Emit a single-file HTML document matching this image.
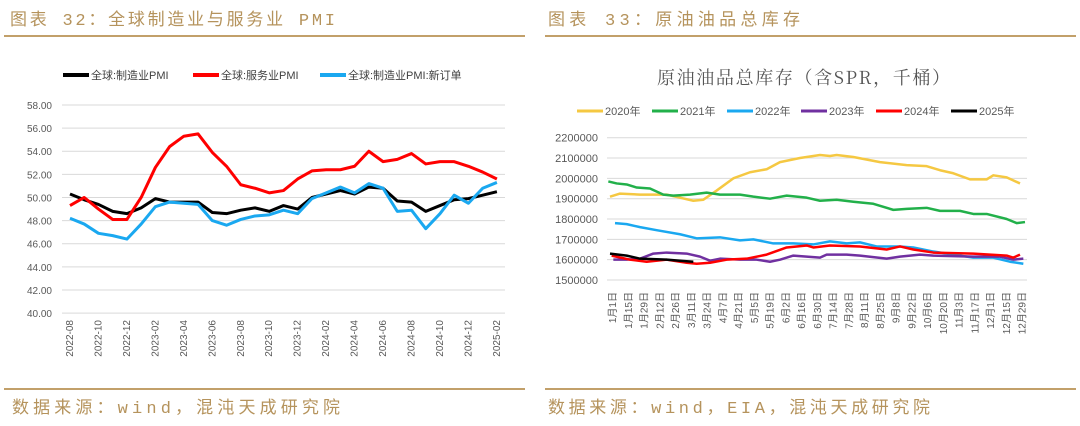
<!DOCTYPE html>
<html><head><meta charset="utf-8">
<style>
body{margin:0;width:1080px;height:426px;background:#fff;overflow:hidden;font-family:"Liberation Sans","Noto Sans CJK SC",sans-serif;}
svg{position:absolute;left:0;top:0}
</style></head><body>
<svg id="s" width="1080" height="426" xmlns="http://www.w3.org/2000/svg">
<g font-family="'Liberation Mono','Noto Sans CJK SC',monospace" fill="#b5935c" font-size="17">
<text x="10" y="25" textLength="325" lengthAdjust="spacing">图表 32：全球制造业与服务业 PMI</text>
<text x="548" y="25" textLength="252" lengthAdjust="spacing">图表 33：原油油品总库存</text>
<text x="12" y="413" textLength="328" lengthAdjust="spacing">数据来源：wind，混沌天成研究院</text>
<text x="548" y="413" textLength="382" lengthAdjust="spacing">数据来源：wind，EIA，混沌天成研究院</text>
</g>
<line x1="4" y1="36" x2="525" y2="36" stroke="#c2a06a" stroke-width="2"/>
<line x1="545" y1="36" x2="1076" y2="36" stroke="#c2a06a" stroke-width="2"/>
<line x1="4" y1="389" x2="525" y2="389" stroke="#c2a06a" stroke-width="2"/>
<line x1="545" y1="389" x2="1076" y2="389" stroke="#c2a06a" stroke-width="2"/>
<g id="L"></g><g id="R"></g>
<text x="657" y="84" font-family="'Noto Serif CJK SC',serif" font-size="18" fill="#555" textLength="293" lengthAdjust="spacing">原油油品总库存（含SPR，千桶）</text>
</svg>
<script>
const NS="http://www.w3.org/2000/svg";
function el(p,t,a,txt){const e=document.createElementNS(NS,t);for(const k in a)e.setAttribute(k,a[k]);if(txt!==undefined)e.textContent=txt;p.appendChild(e);return e;}
const L=document.getElementById('L'),R=document.getElementById('R');
const ly=v=>105+(58-v)*11.56, lx=i=>70+i*14.23;
for(let v=40;v<=58;v+=2){el(L,'line',{x1:62,x2:505,y1:ly(v),y2:ly(v),stroke:'#d9d9d9','stroke-width':1});
el(L,'text',{x:52,y:ly(v)+4,'font-size':10,'text-anchor':'end',fill:'#595959'},v.toFixed(2));}
const months=['2022-08','2022-10','2022-12','2023-02','2023-04','2023-06','2023-08','2023-10','2023-12','2024-02','2024-04','2024-06','2024-08','2024-10','2024-12','2025-02'];
months.forEach((m,k)=>{const x=lx(k*2);el(L,'text',{x:x+3,y:320,'font-size':10,fill:'#595959','text-anchor':'end',transform:`rotate(-90 ${x+3} 320)`},m);});
const blk=[50.3,49.8,49.4,48.8,48.6,49.1,49.9,49.6,49.6,49.6,48.7,48.6,48.9,49.1,48.8,49.3,49.0,50.0,50.3,50.6,50.3,50.9,50.8,49.7,49.6,48.8,49.3,49.8,49.9,50.2,50.5];
const red=[49.3,50.0,49.0,48.1,48.1,50.0,52.6,54.4,55.3,55.5,53.9,52.7,51.1,50.8,50.4,50.6,51.6,52.3,52.4,52.4,52.7,54.0,53.1,53.3,53.8,52.9,53.1,53.1,52.7,52.2,51.6];
const blu=[48.2,47.7,46.9,46.7,46.4,47.7,49.2,49.6,49.5,49.4,48.0,47.6,48.1,48.4,48.5,48.9,48.6,49.9,50.4,50.9,50.4,51.2,50.8,48.8,48.9,47.3,48.6,50.2,49.5,50.8,51.3];
[[blk,'#000'],[red,'#f00'],[blu,'#1aa8f0']].forEach(([d,c])=>el(L,'polyline',{points:d.map((v,i)=>lx(i)+','+ly(v)).join(' '),fill:'none',stroke:c,'stroke-width':3,'stroke-linejoin':'round'}));
[[63,'#000','全球:制造业PMI'],[193,'#f00','全球:服务业PMI'],[320,'#1aa8f0','全球:制造业PMI:新订单']].forEach(([x,c,t])=>{el(L,'line',{x1:x,x2:x+26,y1:75,y2:75,stroke:c,'stroke-width':4});el(L,'text',{x:x+28,y:79,'font-size':11,fill:'#404040'},t);});
const ry=v=>137.7+(2200-v)*0.2033;
for(let v=1500;v<=2200;v+=100){el(R,'line',{x1:607,x2:1027,y1:ry(v),y2:ry(v),stroke:'#d9d9d9','stroke-width':1});
el(R,'text',{x:598,y:ry(v)+4,'font-size':11,'text-anchor':'end',fill:'#595959'},v*1000);}
const lab=['1月1日','1月15日','1月29日','2月12日','2月26日','3月11日','3月24日','4月7日','4月21日','5月5日','5月19日','6月2日','6月16日','6月30日','7月14日','7月28日','8月11日','8月25日','9月8日','9月22日','10月6日','10月20日','11月3日','11月17日','12月1日','12月15日','12月29日'];
lab.forEach((t,k)=>{const x=612+k*15.75;el(R,'text',{x:x+4,y:292,'font-size':10,fill:'#595959','text-anchor':'end',transform:`rotate(-90 ${x+4} 292)`},t);});
const S={
'#f5c842':[[210,1910],[240,1925],[300,1920],[380,1920],[420,1905],[460,1890],[490,1895],[530,1940],[580,2000],[630,2030],[680,2045],[720,2080],[780,2100],[840,2115],[870,2110],[890,2115],[940,2105],[1020,2080],[1100,2065],[1160,2060],[1200,2040],[1240,2025],[1290,1995],[1340,1995],[1360,2015],[1400,2005],[1440,1975]],
'#22b04a':[[205,1985],[230,1975],[260,1970],[290,1955],[330,1950],[370,1920],[400,1915],[450,1920],[500,1930],[540,1920],[600,1920],[640,1910],[690,1900],[740,1915],[800,1905],[840,1890],[890,1895],[940,1885],[1000,1875],[1060,1845],[1100,1850],[1160,1855],[1200,1840],[1260,1840],[1300,1825],[1340,1825],[1400,1800],[1430,1780],[1455,1785]],
'#1aa8f0':[[225,1780],[260,1775],[300,1760],[350,1745],[420,1725],[470,1705],[540,1710],[600,1695],[640,1700],[700,1680],[760,1680],[820,1675],[870,1690],[920,1680],[960,1685],[1010,1665],[1080,1665],[1120,1660],[1180,1640],[1300,1610],[1360,1610],[1410,1590],[1450,1580]],
'#7030a0':[[220,1600],[260,1600],[300,1605],[340,1630],[380,1635],[440,1630],[480,1615],[510,1595],[540,1605],[600,1600],[650,1600],[690,1590],[720,1600],[760,1620],[800,1615],[840,1610],[860,1625],[920,1625],[960,1620],[1040,1605],[1080,1615],[1140,1625],[1180,1620],[1300,1615],[1380,1615],[1420,1600],[1450,1605]],
'#f00':[[215,1620],[270,1600],[320,1590],[380,1600],[440,1585],[470,1580],[510,1585],[560,1600],[620,1605],[680,1625],[740,1660],[800,1670],[820,1660],[870,1670],[960,1665],[1040,1650],[1080,1665],[1120,1650],[1180,1635],[1300,1630],[1400,1620],[1420,1610],[1440,1625]],
'#000':[[210,1630],[260,1620],[300,1605],[380,1600],[420,1595],[460,1590]]};
for(const c in S)el(R,'polyline',{points:S[c].map(([zx,v])=>(540+zx/3)+','+ry(v)).join(' '),fill:'none',stroke:c,'stroke-width':2.5,'stroke-linejoin':'round'});
[['#f5c842','2020年',577],['#22b04a','2021年',652],['#1aa8f0','2022年',727],['#7030a0','2023年',801],['#f00','2024年',876],['#000','2025年',951]].forEach(([c,t,x])=>{el(R,'line',{x1:x,x2:x+26,y1:111,y2:111,stroke:c,'stroke-width':3});el(R,'text',{x:x+28,y:115,'font-size':11,fill:'#595959'},t);});
</script>
</body></html>
